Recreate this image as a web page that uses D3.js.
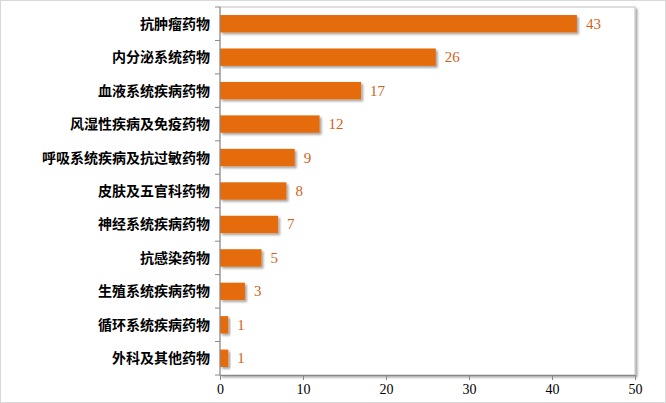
<!DOCTYPE html>
<html><head><meta charset="utf-8">
<script src="https://cdn.jsdelivr.net/npm/d3@7"></script>
<style>body{margin:0;background:#fff}text{font-family:"Liberation Serif","Noto Sans CJK SC",serif}</style>
</head><body>
<script>
var categories = ["抗肿瘤药物","内分泌系统药物","血液系统疾病药物","风湿性疾病及免疫药物","呼吸系统疾病及抗过敏药物","皮肤及五官科药物","神经系统疾病药物","抗感染药物","生殖系统疾病药物","循环系统疾病药物","外科及其他药物"];
var values = [43,26,17,12,9,8,7,5,3,1,1];
var ticks = [0,10,20,30,40,50];

var W = 666, H = 403;
var m = {l: 220, r: 31, t: 7, b: 28};
var svg = d3.select("body").append("svg").attr("width", W).attr("height", H);

var defs = svg.append("defs");
var f = defs.append("filter").attr("id","sh").attr("x","-20%").attr("y","-20%").attr("width","150%").attr("height","160%");
f.append("feDropShadow").attr("dx",2).attr("dy",2).attr("stdDeviation",1.2).attr("flood-color","#000").attr("flood-opacity",0.35);

svg.append("rect").attr("x",0.5).attr("y",0.5).attr("width",W-1).attr("height",H-1)
  .attr("fill","none").attr("stroke","#d9d9d9");

var x = d3.scaleLinear().domain([0,50]).range([m.l, W-m.r]);
var y = d3.scaleBand().domain(categories).range([m.t, H-m.b]).paddingInner(0.48).paddingOuter(0.24);

svg.append("rect").attr("x",m.l).attr("y",m.t).attr("width",W-m.r-m.l).attr("height",H-m.b-m.t)
  .attr("fill","#fff").attr("stroke","#bfbfbf").attr("filter","url(#sh)");

svg.append("g").selectAll("rect").data(values).join("rect")
  .attr("x", x(0)).attr("y", (d,i)=>y(categories[i]))
  .attr("width", d=>x(d)-x(0)).attr("height", y.bandwidth())
  .attr("fill","#e46c0a").attr("filter","url(#sh)");

svg.append("g").selectAll("text").data(values).join("text")
  .attr("x", d=>x(d)+9).attr("y", (d,i)=>y(categories[i])+y.bandwidth()/2+5)
  .attr("fill","#d0631a").attr("font-size",15).text(d=>d);

var xa = svg.append("g").attr("transform","translate(0,"+(H-m.b)+")")
  .call(d3.axisBottom(x).tickValues(ticks).tickSize(5).tickPadding(4));
xa.selectAll("text").attr("font-size",14).attr("fill","#000");
xa.selectAll("line,path").attr("stroke","#888");

// y axis with ticks between categories
var step = y.step();
var ya = svg.append("g");
ya.append("line").attr("x1",m.l).attr("x2",m.l).attr("y1",m.t).attr("y2",H-m.b).attr("stroke","#888");
ya.selectAll("line.t").data(d3.range(categories.length+1)).join("line").attr("class","t")
  .attr("x1",m.l-5).attr("x2",m.l)
  .attr("y1",i=>m.t+i*(H-m.b-m.t)/categories.length).attr("y2",i=>m.t+i*(H-m.b-m.t)/categories.length)
  .attr("stroke","#888");
ya.selectAll("text").data(categories).join("text")
  .attr("x",m.l-10).attr("y",d=>y(d)+y.bandwidth()/2+5)
  .attr("text-anchor","end").attr("font-size",14).attr("font-weight","bold").attr("fill","#000").text(d=>d);
</script>
</body></html>
